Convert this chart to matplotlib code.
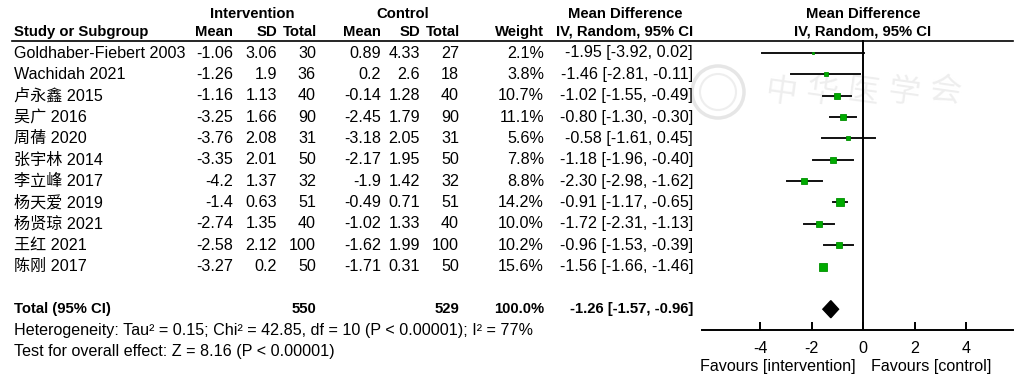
import numpy as np
import matplotlib
matplotlib.use("Agg")
import matplotlib.pyplot as plt
from matplotlib.lines import Line2D
from matplotlib.patches import Polygon, Ellipse
from matplotlib.transforms import blended_transform_factory

plt.rcParams['font.family'] = ['Liberation Sans', 'Noto Sans CJK SC', 'DejaVu Sans']
plt.rcParams['axes.unicode_minus'] = False

# data
studies = ["Goldhaber-Fiebert 2003", "Wachidah 2021", "卢永鑫 2015", "吴广 2016",
           "周蒨 2020", "张宇林 2014", "李立峰 2017", "杨天爱 2019", "杨贤琼 2021",
           "王红 2021", "陈刚 2017"]
int_mean = ["-1.06", "-1.26", "-1.16", "-3.25", "-3.76", "-3.35", "-4.2", "-1.4", "-2.74", "-2.58", "-3.27"]
int_sd = ["3.06", "1.9", "1.13", "1.66", "2.08", "2.01", "1.37", "0.63", "1.35", "2.12", "0.2"]
int_n = [30, 36, 40, 90, 31, 50, 32, 51, 40, 100, 50]
ctl_mean = ["0.89", "0.2", "-0.14", "-2.45", "-3.18", "-2.17", "-1.9", "-0.49", "-1.02", "-1.62", "-1.71"]
ctl_sd = ["4.33", "2.6", "1.28", "1.79", "2.05", "1.95", "1.42", "0.71", "1.33", "1.99", "0.31"]
ctl_n = [27, 18, 40, 90, 31, 50, 32, 51, 40, 100, 50]
weight = [2.1, 3.8, 10.7, 11.1, 5.6, 7.8, 8.8, 14.2, 10.0, 10.2, 15.6]
md = [-1.95, -1.46, -1.02, -0.80, -0.58, -1.18, -2.30, -0.91, -1.72, -0.96, -1.56]
ci_lo = [-3.92, -2.81, -1.55, -1.30, -1.61, -1.96, -2.98, -1.17, -2.31, -1.53, -1.66]
ci_hi = [0.02, -0.11, -0.49, -0.30, 0.45, -0.40, -1.62, -0.65, -1.13, -0.39, -1.46]

total_int, total_ctl, total_weight = 550, 529, 100.0
pooled, pooled_lo, pooled_hi = -1.26, -1.57, -0.96
heterogeneity = "Heterogeneity: Tau² = 0.15; Chi² = 42.85, df = 10 (P < 0.00001); I² = 77%"
overall = "Test for overall effect: Z = 8.16 (P < 0.00001)"
xticks = [-4, -2, 0, 2, 4]

W, H = 1021, 381
row0, step = 53, 21.35
fs = 11.6
fsb = 10.7

fig = plt.figure(figsize=(W / 100, H / 100), dpi=100)
ax = fig.add_axes([702 / W, (H - 330) / H, (1013 - 702) / W, (330 - 40) / H])
ax.patch.set_visible(False)
ax.set_zorder(2)
ax.set_xlim(-6.26, 5.81)
ax.set_ylim((330 - row0) / step, (40 - row0) / step)

tr = blended_transform_factory(fig.transFigure, ax.transData)


def txt(x, row, s, ha="right", bold=False, **kw):
    ax.text(x / W, row, s, transform=tr, ha=ha, va="center",
            fontsize=fsb if bold else fs,
            fontweight="bold" if bold else "normal", clip_on=False, **kw)


# faint watermark
for k, ch in enumerate("中华医学会"):
    fig.text((781 + 41 * k) / W, 1 - 92 / H, ch, fontsize=23, color="#eeeeee",
             ha="center", va="center", rotation=-8, family="Noto Sans CJK SC", zorder=1)
fig.add_artist(Ellipse((718 / W, 1 - 92 / H), 52 / W, 52 / H, transform=fig.transFigure,
                       fill=False, ec="#e6e6e6", lw=2.5, zorder=1))
fig.add_artist(Ellipse((718 / W, 1 - 92 / H), 36 / W, 36 / H, transform=fig.transFigure,
                       fill=False, ec="#eeeeee", lw=1.5, zorder=1))

# headers
hr1 = (14 - row0) / step
hr2 = (32 - row0) / step
txt(252, hr1, "Intervention", ha="center", bold=True)
txt(403, hr1, "Control", ha="center", bold=True)
txt(625, hr1, "Mean Difference", ha="center", bold=True)
txt(863, hr1, "Mean Difference", ha="center", bold=True)
txt(14, hr2, "Study or Subgroup", ha="left", bold=True)
for x, s in zip([233, 277, 317, 381, 420, 460, 544],
                ["Mean", "SD", "Total", "Mean", "SD", "Total", "Weight"]):
    txt(x, hr2, s, bold=True)
txt(625, hr2, "IV, Random, 95% CI", ha="center", bold=True)
txt(863, hr2, "IV, Random, 95% CI", ha="center", bold=True)
fig.add_artist(Line2D([12 / W, 1013 / W], [1 - 40.5 / H, 1 - 40.5 / H], color="black", lw=1.2))

# study rows
for i in range(len(studies)):
    txt(14, i, studies[i], ha="left")
    txt(233, i, int_mean[i])
    txt(277, i, int_sd[i])
    txt(316, i, str(int_n[i]))
    txt(381, i, ctl_mean[i])
    txt(420, i, ctl_sd[i])
    txt(459, i, str(ctl_n[i]))
    txt(544, i, f"{weight[i]:.1f}%")
    txt(693, i, f"{md[i]:.2f} [{ci_lo[i]:.2f}, {ci_hi[i]:.2f}]")
    ax.plot([ci_lo[i], ci_hi[i]], [i, i], color="#111111", lw=1.4, zorder=2)
    side = 2.03 * np.sqrt(weight[i]) * 0.72
    ax.plot(md[i], i, marker="s", ms=side, color="#00aa00", mec="#009000", mew=0.6, zorder=3)

# total
tr_row = len(studies) + 1
txt(14, tr_row, "Total (95% CI)", ha="left", bold=True)
txt(316, tr_row, str(total_int), bold=True)
txt(459, tr_row, str(total_ctl), bold=True)
txt(544, tr_row, f"{total_weight:.1f}%", bold=True)
txt(693, tr_row, f"{pooled:.2f} [{pooled_lo:.2f}, {pooled_hi:.2f}]", bold=True)
ax.add_patch(Polygon([[pooled_lo, tr_row], [pooled, tr_row - 0.4],
                      [pooled_hi, tr_row], [pooled, tr_row + 0.4]],
                     closed=True, color="black", zorder=3))
txt(14, tr_row + 1, heterogeneity, ha="left")
txt(14, tr_row + 2, overall, ha="left")

# axis
ax.axvline(0, color="black", lw=1.4)
for s in ["top", "right", "left"]:
    ax.spines[s].set_visible(False)
ax.spines["bottom"].set_linewidth(1.4)
ax.set_yticks([])
ax.set_xticks(xticks)
ax.set_xticklabels([str(t) for t in xticks])
ax.tick_params(axis="x", direction="in", length=6, width=1.4, labelsize=fs, pad=8)
fig.text(856 / W, 1 - 366 / H, "Favours [intervention]", ha="right", va="center", fontsize=fs)
fig.text(871 / W, 1 - 366 / H, "Favours [control]", ha="left", va="center", fontsize=fs)

fig.savefig("out.png", dpi=100)
